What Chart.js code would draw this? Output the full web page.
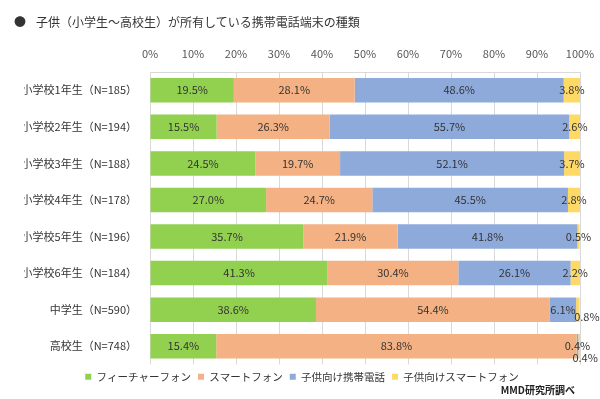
<!DOCTYPE html>
<html lang="ja">
<head>
<meta charset="utf-8">
<script src="https://cdn.jsdelivr.net/npm/chart.js@4.4.1/dist/chart.umd.min.js"></script>
<style>
  html, body { margin: 0; padding: 0; background: #fff; }
  #wrap { position: relative; width: 600px; height: 399px; font-family: "Noto Sans CJK JP", sans-serif; }
  #title { position: absolute; left: 14px; top: 13px; font-size: 12px; color: #333; white-space: nowrap; }
  #title .dot { display: inline-block; width: 22px; }
  #source { position: absolute; right: 25px; top: 382px; font-size: 10px; font-weight: bold; color: #222; }
  canvas { position: absolute; left: 0; top: 0; }
</style>
</head>
<body>
<div id="wrap">
  <canvas id="chart" width="600" height="399"></canvas>
  <div id="title"><span class="dot">●</span>子供（小学生～高校生）が所有している携帯電話端末の種類</div>
  <div id="source">MMD研究所調べ</div>
</div>
<script>
// 学年別カテゴリ
const categories = [
  "小学校1年生（N=185）",
  "小学校2年生（N=194）",
  "小学校3年生（N=188）",
  "小学校4年生（N=178）",
  "小学校5年生（N=196）",
  "小学校6年生（N=184）",
  "中学生（N=590）",
  "高校生（N=748）",
];

// 系列（%）
const featurePhone = [19.5, 15.5, 24.5, 27.0, 35.7, 41.3, 38.6, 15.4];
const smartPhone = [28.1, 26.3, 19.7, 24.7, 21.9, 30.4, 54.4, 83.8];
const kidsPhone = [48.6, 55.7, 52.1, 45.5, 41.8, 26.1, 6.1, 0.4];
const kidsSmartPhone = [3.8, 2.6, 3.7, 2.8, 0.5, 2.2, 0.8, 0.4];

const seriesNames = ["フィーチャーフォン", "スマートフォン", "子供向け携帯電話", "子供向けスマートフォン"];
const seriesColors = ["#92d050", "#f4b183", "#8eaadb", "#ffd966"];

// 小さい値のラベル位置ずらし（"系列,行" → [dx, dy]）
const labelNudge = {
  "3,6": [9, 7],
  "3,7": [6, 12],
};

Chart.defaults.font.family = '"Noto Sans CJK JP", sans-serif';
Chart.defaults.font.size = 11;

const valueLabels = {
  id: "valueLabels",
  afterDatasetsDraw(chart) {
    const ctx = chart.ctx;
    ctx.save();
    ctx.font = '11px "Noto Sans CJK JP", sans-serif';
    ctx.fillStyle = "#333";
    ctx.textAlign = "center";
    ctx.textBaseline = "middle";
    chart.data.datasets.forEach((ds, di) => {
      chart.getDatasetMeta(di).data.forEach((bar, i) => {
        const nudge = labelNudge[`${di},${i}`] || [0, 0];
        const x = (bar.x + bar.base) / 2 + nudge[0];
        ctx.fillText(ds.data[i].toFixed(1) + "%", x, bar.y + nudge[1]);
      });
    });
    ctx.restore();
  },
};

const allSeries = [featurePhone, smartPhone, kidsPhone, kidsSmartPhone];

new Chart(document.getElementById("chart"), {
  type: "bar",
  data: {
    labels: categories,
    datasets: allSeries.map((data, k) => ({
      label: seriesNames[k],
      data,
      backgroundColor: seriesColors[k],
      barPercentage: 0.67,
      categoryPercentage: 1.0,
    })),
  },
  options: {
    indexAxis: "y",
    responsive: false,
    animation: false,
    layout: { padding: { top: 42, right: 20, bottom: 7, left: 24 } },
    plugins: {
      legend: {
        position: "bottom",
        labels: { boxWidth: 6, boxHeight: 6, padding: 7, color: "#333", font: { size: 10.5 } },
      },
      tooltip: { enabled: false },
    },
    scales: {
      x: {
        position: "top",
        stacked: true,
        min: 0,
        max: 100,
        ticks: { stepSize: 10, padding: 12, color: "#555", callback: (v) => v + "%" },
        grid: { color: "#d9d9d9", drawTicks: false },
        border: { display: true, color: "#d9d9d9" },
        afterFit: (scale) => {
          scale.height = 30;
          scale.paddingLeft = 0;
          scale.paddingRight = 0;
        },
      },
      y: {
        stacked: true,
        ticks: { padding: 13, color: "#333", font: { size: 11 } },
        grid: { display: false, drawTicks: false },
        border: { display: false },
        afterFit: (scale) => { scale.width = 126; },
      },
    },
  },
  plugins: [valueLabels],
});
</script>
</body>
</html>
